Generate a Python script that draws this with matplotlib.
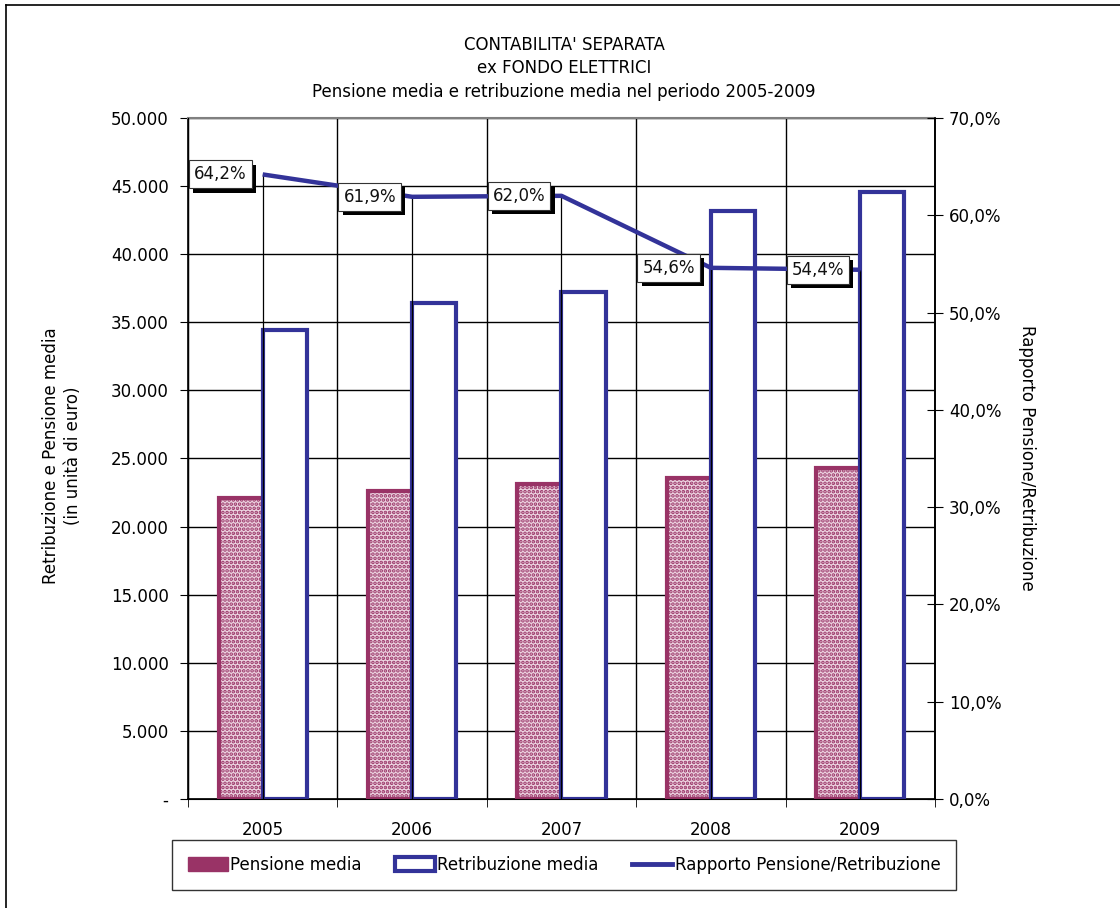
import matplotlib
matplotlib.use('Agg')
import matplotlib.pyplot as plt
import matplotlib.patheffects as pe
import numpy as np
from matplotlib.lines import Line2D
from matplotlib.patches import Patch
from matplotlib.ticker import FuncFormatter

years = ['2005', '2006', '2007', '2008', '2009']
pensione = [22100, 22600, 23150, 23600, 24300]
retribuzione = [34400, 36450, 37250, 43150, 44600]
rapporto = [64.2, 61.9, 62.0, 54.6, 54.4]
left_ticks = [0, 5000, 10000, 15000, 20000, 25000, 30000, 35000, 40000, 45000, 50000]
right_ticks = [0, 10, 20, 30, 40, 50, 60, 70]

PINK = '#993366'
BLUE = '#333399'

plt.rcParams['font.family'] = ['DejaVu Sans']
plt.rcParams['font.size'] = 12
plt.rcParams['hatch.linewidth'] = 1.8

fig = plt.figure(figsize=(11.2, 9.08), dpi=100)
ax = fig.add_axes([188/1120, 1-799/908, (935-188)/1120, (799-118)/908])

x = np.arange(len(years))
w = 0.295
ax.bar(x - w/2, pensione, w, facecolor='#ecd3e0', edgecolor=PINK, hatch='....',
       linewidth=3, zorder=3)
ax.bar(x + w/2, retribuzione, w, facecolor='white', edgecolor=BLUE,
       linewidth=3, zorder=3)

ax.set_xlim(-0.5, len(years) - 0.5)
ax.set_ylim(0, 50000)
ax.set_yticks(left_ticks)
ax.yaxis.set_major_formatter(FuncFormatter(
    lambda v, p: '-' if v == 0 else f"{v:,.0f}".replace(',', '.')))
ax.set_xticks(x, years)
ax.set_xticks(np.arange(-0.5, len(years), 1), minor=True)
ax.tick_params(axis='x', which='major', length=0, pad=16)
ax.tick_params(axis='x', which='minor', length=6, direction='out', color='black')
ax.tick_params(axis='y', length=6, direction='out', pad=8)
ax.set_axisbelow(True)
ax.yaxis.grid(True, color='black', lw=1.0)
ax.xaxis.grid(True, which='minor', color='black', lw=1.0)
ax.xaxis.grid(False, which='major')
for s in ['left', 'bottom', 'right']:
    ax.spines[s].set_color('black')
    ax.spines[s].set_linewidth(1.2)
ax.spines['top'].set_color('#808080')
ax.spines['top'].set_linewidth(1.5)

ax2 = ax.twinx()
ax2.set_ylim(0, 70)
ax2.set_yticks(right_ticks)
ax2.yaxis.set_major_formatter(FuncFormatter(
    lambda v, p: f"{v:.1f}%".replace('.', ',')))
ax2.tick_params(axis='y', length=12, direction='inout', pad=4)
ax2.spines['top'].set_visible(False)
ax2.spines['right'].set_color('black')
ax2.spines['right'].set_linewidth(1.2)

ax2.vlines(x, 0, rapporto, color='black', lw=0.9, zorder=2)
ax2.plot(x, rapporto, color=BLUE, lw=3.2, zorder=4, solid_capstyle='butt')

for xi, r in zip(x, rapporto):
    lab = f"{r:.1f}%".replace('.', ',')
    t = ax2.annotate(lab, (xi, r), xytext=(-16, 0), textcoords='offset pixels',
                     ha='right', va='center', color='#111111', fontsize=12, zorder=6,
                     bbox=dict(boxstyle='square,pad=0.3', fc='white', ec='#333333', lw=0.8))
    t.get_bbox_patch().set_path_effects([
        pe.SimplePatchShadow(offset=(3, -3), shadow_rgbFace='black', alpha=1.0),
        pe.Normal()])

fig.text(564/1120, 1-45/908, "CONTABILITA' SEPARATA", ha='center', va='center', fontsize=12)
fig.text(564/1120, 1-68/908, "ex FONDO ELETTRICI", ha='center', va='center', fontsize=12)
fig.text(564/1120, 1-92/908, "Pensione media e retribuzione media nel periodo 2005-2009",
         ha='center', va='center', fontsize=12)

fig.text(62/1120, 1-456/908, "Retribuzione e Pensione media\n(in unità di euro)",
         rotation=90, ha='center', va='center', multialignment='center', fontsize=12,
         linespacing=1.25)
fig.text(1027/1120, 1-458/908, "Rapporto Pensione/Retribuzione",
         rotation=270, ha='center', va='center', fontsize=12)

handles = [Patch(facecolor=PINK, edgecolor=PINK, hatch='....'),
           Patch(facecolor='white', edgecolor=BLUE, lw=3),
           Line2D([], [], color=BLUE, lw=3.5)]
labels = ['Pensione media', 'Retribuzione media', 'Rapporto Pensione/Retribuzione']
leg = fig.legend(handles, labels, loc='center', ncol=3,
                 bbox_to_anchor=(564/1120, 1-865/908), frameon=True, fancybox=False,
                 edgecolor='black', fontsize=12, handlelength=2.4, handleheight=0.9,
                 handletextpad=0.15, columnspacing=2.0, borderpad=0.95, borderaxespad=0)
leg.get_frame().set_linewidth(1.0)

# outer chart border (left and top edges visible)
fig.add_artist(Line2D([6/1120, 6/1120], [0, 1-5/908], transform=fig.transFigure,
                      color='black', lw=1.2))
fig.add_artist(Line2D([6/1120, 1], [1-5/908, 1-5/908], transform=fig.transFigure,
                      color='black', lw=1.2))

fig.savefig('out.png', dpi=100)
